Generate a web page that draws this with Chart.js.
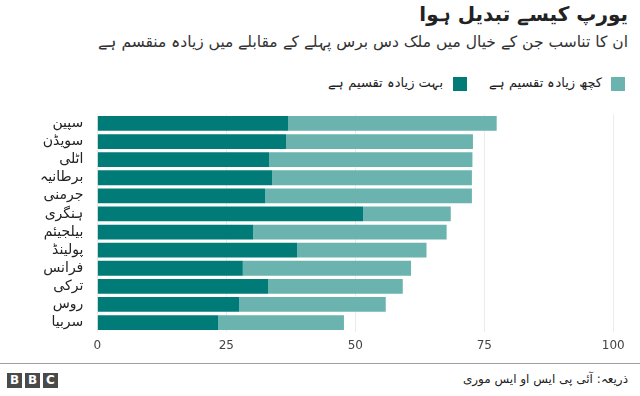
<!DOCTYPE html>
<html><head><meta charset="utf-8">
<script src="https://cdn.jsdelivr.net/npm/chart.js@4"></script>
<style>
html,body{margin:0;padding:0;background:#fff;width:640px;height:396px;overflow:hidden;font-family:"DejaVu Sans","Noto Sans",sans-serif;}
#title{position:absolute;right:12px;top:2px;font-size:20px;font-weight:bold;color:#222;direction:rtl;white-space:nowrap;}
#sub{position:absolute;right:12px;top:33px;font-size:15.5px;color:#333;direction:rtl;white-space:nowrap;}
.lg{position:absolute;top:75px;height:16px;direction:rtl;font-size:13px;color:#222;white-space:nowrap;line-height:16px;}
.sq{position:absolute;top:77px;width:14px;height:14px;}
#wrap{position:absolute;left:0;top:100px;width:640px;height:260px;}
#line{position:absolute;left:0;top:363px;width:640px;height:1px;background:#a0a0a0;}
.bbc{position:absolute;top:373px;width:15px;height:15px;background:#4a4a4a;color:#fff;font:bold 12px "DejaVu Sans",sans-serif;text-align:center;line-height:15px;}
#src{position:absolute;right:12px;top:372px;font-size:12px;color:#222;direction:rtl;white-space:nowrap;}
</style></head>
<body>
<div id="title">یورپ کیسے تبدیل ہوا</div>
<div id="sub">ان کا تناسب جن کے خیال میں ملک دس برس پہلے کے مقابلے میں زیادہ منقسم ہے</div>
<div class="sq" style="left:611px;background:#6ab3ae"></div>
<div class="lg" style="right:38px">کچھ زیادہ تقسیم ہے</div>
<div class="sq" style="left:453px;background:#007b77"></div>
<div class="lg" style="right:197px">بہت زیادہ تقسیم ہے</div>
<div id="wrap"><canvas id="c"></canvas></div>
<div id="line"></div>
<div class="bbc" style="left:7px">B</div>
<div class="bbc" style="left:25px">B</div>
<div class="bbc" style="left:43px">C</div>
<div id="src">ذریعہ: آئی پی ایس او ایس موری</div>
<script>
const categories = ["سپین","سویڈن","اٹلی","برطانیہ","جرمنی","ہنگری","بیلجیئم","پولینڈ","فرانس","ترکی","روس","سربیا"];
const muchMore = [37.0,36.6,33.3,33.9,32.5,51.5,30.2,38.7,28.2,33.1,27.5,23.4];
const somewhatMore = [40.4,36.2,39.4,38.7,40.1,17.0,37.5,25.1,32.6,26.1,28.4,24.4];
const xTicks = [0,25,50,75,100];
const seriesNames = ["بہت زیادہ تقسیم ہے","کچھ زیادہ تقسیم ہے"];

new Chart(document.getElementById('c'), {
  type: 'bar',
  data: {
    labels: categories,
    datasets: [
      {label: seriesNames[0], data: muchMore, backgroundColor: '#007b77', borderWidth: 0, barPercentage: 0.82, categoryPercentage: 1},
      {label: seriesNames[1], data: somewhatMore, backgroundColor: '#6ab3ae', borderWidth: 0, barPercentage: 0.82, categoryPercentage: 1}
    ]
  },
  options: {
    indexAxis: 'y',
    responsive: true,
    maintainAspectRatio: false,
    animation: false,
    layout: {padding: {top: 9, right: 26.7, left: 0, bottom: 0}},
    plugins: {legend: {display: false}, tooltip: {enabled: false}},
    scales: {
      x: {
        stacked: true, min: 0, max: 100,
        afterBuildTicks: (axis) => { axis.ticks = xTicks.map(v => ({value: v})); },
        grid: {color: '#ececec', drawTicks: false},
        border: {display: false},
        ticks: {color: '#444', font: {family: 'DejaVu Sans', size: 12}, padding: 7}
      },
      y: {
        stacked: true,
        afterFit: (axis) => { axis.width = 97.3; },
        grid: {display: false},
        border: {display: false},
        ticks: {color: '#222', font: {family: 'DejaVu Sans', size: 14}, padding: 6, autoSkip: false}
      }
    }
  }
});
</script>
</body></html>
